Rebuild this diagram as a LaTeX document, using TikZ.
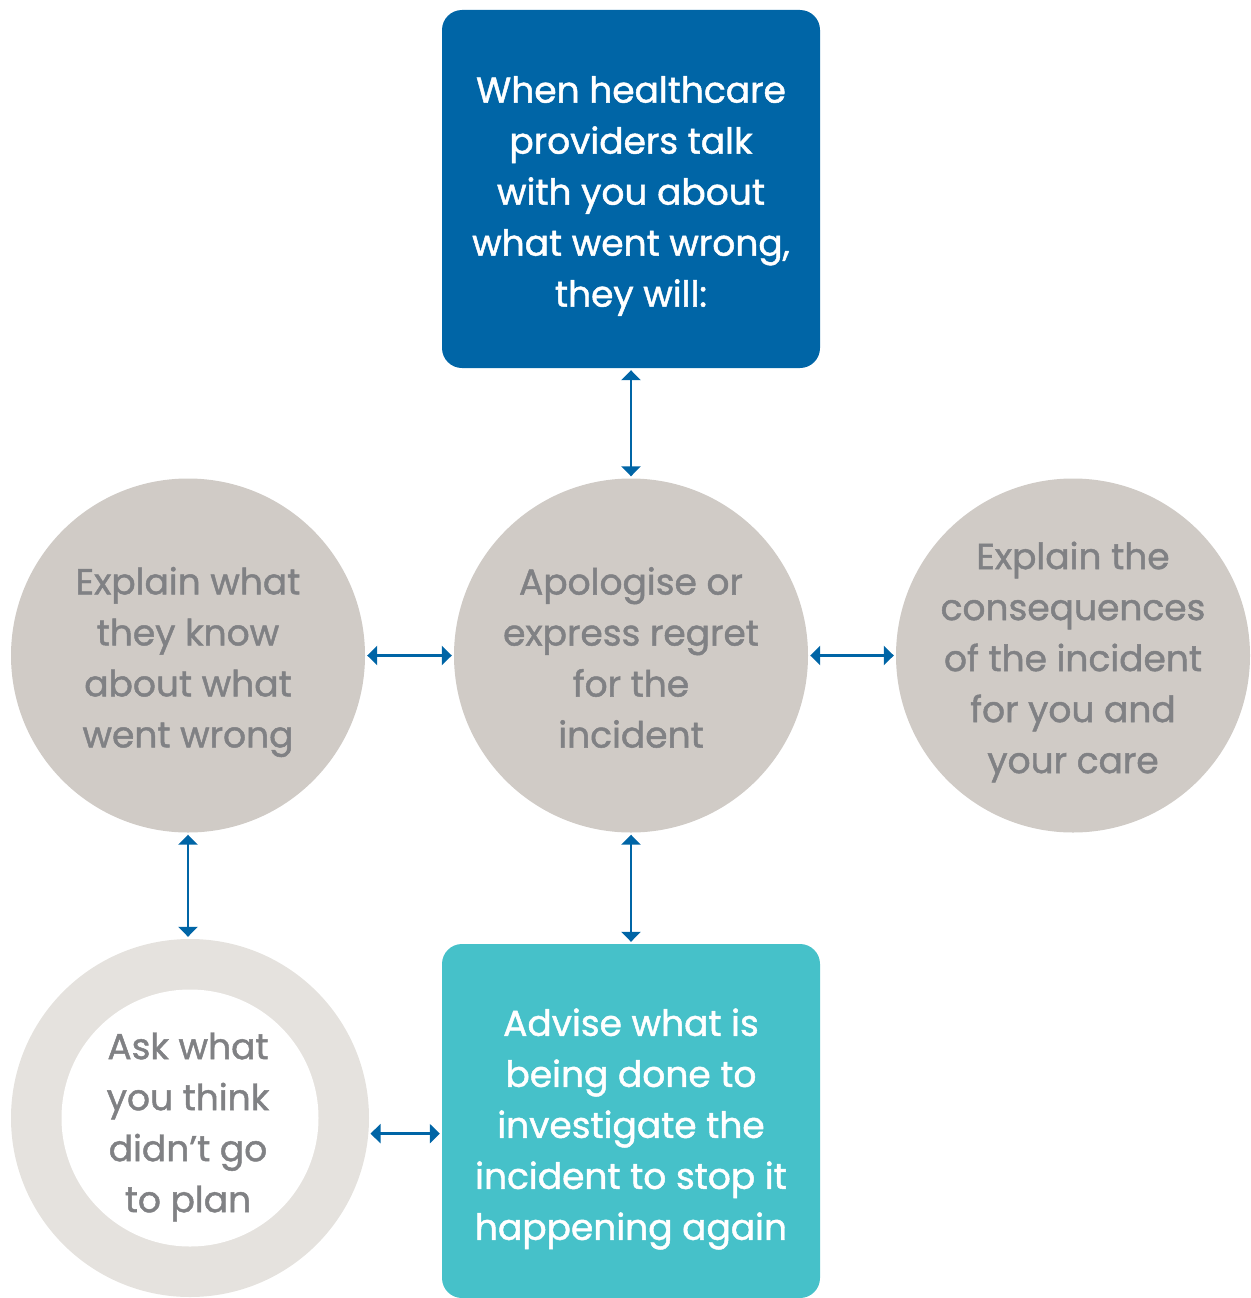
\documentclass[tikz,border=0pt]{standalone}
\usepackage{fontspec}
\setmainfont{Poppins}[FakeBold=1.3]
\usetikzlibrary{arrows.meta}
\definecolor{dblue}{HTML}{0065A6}
\definecolor{teal2}{HTML}{46C1C9}
\definecolor{cgray}{HTML}{D0CBC6}
\definecolor{rgray}{HTML}{E5E2DE}
\definecolor{tgray}{HTML}{808184}
\tikzset{
  txt/.style={font=\fontsize{36}{51}\selectfont, align=center},
  bluebox/.style={fill=dblue, rounded corners=20pt, minimum width=378pt, minimum height=358pt, inner sep=0pt},
  tealbox/.style={fill=teal2, rounded corners=20pt, minimum width=378pt, minimum height=354pt, inner sep=0pt},
  gcirc/.style={circle, fill=cgray, minimum size=354pt, inner sep=0pt},
  wtxt/.style={txt, text=white},
  gtxt/.style={txt, text=tgray},
  arr/.style={dblue, line width=2.6pt, {Triangle[width=19pt,length=10pt]}-{Triangle[width=19pt,length=10pt]}, shorten <=2pt, shorten >=2pt},
}
\begin{document}
\begin{tikzpicture}[x=1pt,y=-1pt]
\useasboundingbox (0,0) rectangle (1250,1298);
\node[bluebox] (top) at (631,189) {};
\node[wtxt] (toptxt) at (631,196) {When healthcare\\providers talk\\with you about\\what went wrong,\\they will:};
\node[gcirc] (mid) at (631,655.5) {};
\node[gtxt] (midtxt) at (631,657.5) {Apologise or\\express regret\\for the\\incident};
\node[gcirc] (left) at (188,655.5) {};
\node[gtxt] (lefttxt) at (188,662) {Explain what\\they know\\about what\\went wrong};
\node[gcirc] (right) at (1073,655.5) {};
\node[gtxt] (righttxt) at (1073,662) {Explain the\\consequences\\of the incident\\for you and\\your care};
\node[circle, fill=rgray, minimum size=358pt, inner sep=0pt] (ring) at (190,1118) {};
\node[circle, fill=white, minimum size=257pt, inner sep=0pt] (inner) at (190,1118) {};
\node[gtxt] (ringtxt) at (188,1127) {Ask what\\you think\\didn’t go\\to plan};
\node[tealbox] (bot) at (631,1121) {};
\node[wtxt] (bottxt) at (631,1129) {Advise what is\\being done to\\investigate the\\incident to stop it\\happening again};
\draw[arr] (top.south) -- (mid.north);
\draw[arr] (left.east) -- (mid.west);
\draw[arr] (mid.east) -- (right.west);
\draw[arr] (left.south) -- (left.south |- ring.north);
\draw[arr] (mid.south) -- (bot.north);
\draw[arr] (ring.-5.5) -- (ring.-5.5 -| bot.west);
\end{tikzpicture}
\end{document}
